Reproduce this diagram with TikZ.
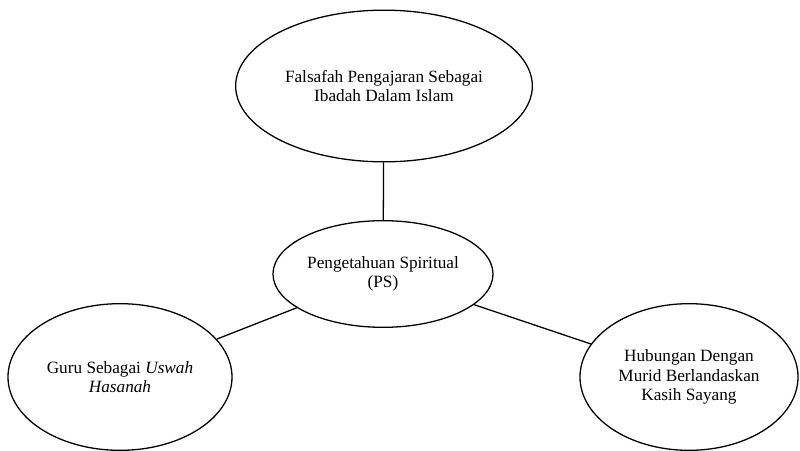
\documentclass[tikz,border=0pt]{standalone}
\usepackage{fontspec}
\setmainfont{Liberation Serif}
\usepackage{tikz}
\usetikzlibrary{shapes.geometric, positioning}

\begin{document}
\begin{tikzpicture}[x = 0.03cm, y = -0.03cm,
    bubble/.style = {draw, ellipse, line width = 1.1pt, inner sep = 0pt, align = center,
                     font = \fontsize{14.7}{16.8}\selectfont},
    link/.style = {line width = 1.1pt}]
    % Bordo della figura
    \useasboundingbox (0,0) rectangle (800,451);
    % Nodo centrale
    \node[bubble, minimum width = 6.6cm, minimum height = 3.2cm] (ps) at (383,274)
        {Pengetahuan Spiritual\\(PS)};
    % Nodo in alto
    \node[bubble, minimum width = 8.9cm, minimum height = 4.55cm] (falsafah) at (384,86)
        {Falsafah Pengajaran Sebagai\\Ibadah Dalam Islam};
    % Nodo a sinistra
    \node[bubble, minimum width = 6.72cm, minimum height = 4.4cm] (guru) at (120,377)
        {Guru Sebagai \textit{Uswah}\\\textit{Hasanah}};
    % Nodo a destra
    \node[bubble, minimum width = 6.54cm, minimum height = 4.4cm] (murid) at (689,377)
        {Hubungan Dengan\\Murid Berlandaskan\\Kasih Sayang};
    % Collegamenti
    \draw[link] (falsafah) -- (ps);
    \draw[link] (ps) -- (guru);
    \draw[link] (ps) -- (murid);
\end{tikzpicture}
\end{document}
